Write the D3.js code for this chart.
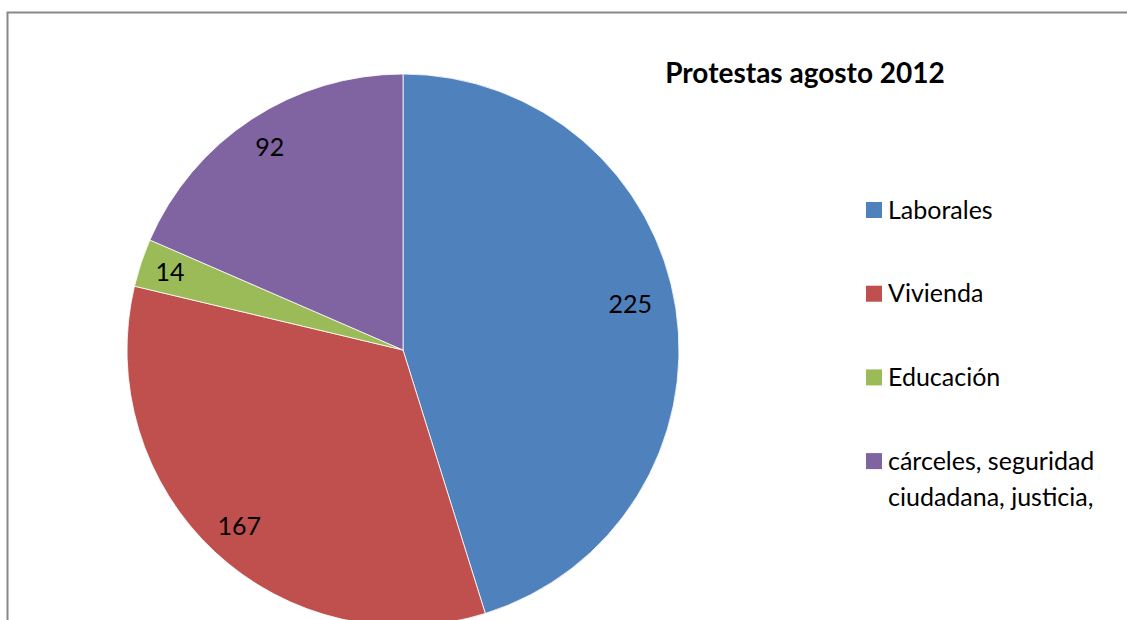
<!DOCTYPE html>
<html>
<head>
<meta charset="utf-8">
<script src="https://cdn.jsdelivr.net/npm/d3@7"></script>
<style>
  body { margin: 0; background: #fff; }
  svg { display: block; font-family: Lato, "Open Sans", sans-serif; }
</style>
</head>
<body>
<svg id="chart" width="1127" height="620"></svg>
<script>
'use strict';

// data
const categories = ['Laborales', 'Vivienda', 'Educación', 'cárceles, seguridad ciudadana, justicia,'];
const values = [225, 167, 14, 92];
const colors = ['#4F81BD', '#C0504D', '#9BBB59', '#8064A2'];
const legendLines = [['Laborales'], ['Vivienda'], ['Educación'], ['cárceles, seguridad', 'ciudadana, justicia,']];
const title = 'Protestas agosto 2012';

const svg = d3.select('#chart');

// chart frame (only top and left visible in crop)
svg.append('path')
  .attr('d', 'M7.5,620 V12.5 H1127')
  .attr('fill', 'none')
  .attr('stroke', '#888')
  .attr('stroke-width', 2);

const cx = 403;
const cy = 350;
const radius = 276;

const pie = d3.pie().sort(null).value(d => d);
const arcs = pie(values);
const arc = d3.arc().innerRadius(0).outerRadius(radius);

const g = svg.append('g').attr('transform', 'translate(' + cx + ',' + cy + ')');

g.selectAll('path.slice')
  .data(arcs)
  .enter()
  .append('path')
  .attr('class', 'slice')
  .attr('d', arc)
  .attr('fill', (d, i) => colors[i])
  .attr('stroke', '#fff')
  .attr('stroke-width', 0.8);

// best-fit label placement: distance as fraction of radius, small angle nudge
const labelFactor = [0.84, 0.87, 0.89, 0.88];
const labelNudge = [-0.049, 0, 0, 0];
g.selectAll('text.label')
  .data(arcs)
  .enter()
  .append('text')
  .attr('class', 'label')
  .attr('transform', function(d, i) {
    const a = (d.startAngle + d.endAngle) / 2 + labelNudge[i];
    const r = radius * labelFactor[i];
    return 'translate(' + r * Math.sin(a) + ',' + -r * Math.cos(a) + ')';
  })
  .attr('text-anchor', 'middle')
  .attr('dy', '0.36em')
  .attr('font-size', 25)
  .attr('fill', '#000')
  .text(d => d.data);

// title
svg.append('text')
  .attr('x', 805)
  .attr('y', 83)
  .attr('text-anchor', 'middle')
  .attr('font-size', 28)
  .attr('font-weight', 'bold')
  .text(title);

// legend
const legend = svg.append('g').attr('transform', 'translate(866,210)');
const item = legend.selectAll('g.item')
  .data(categories)
  .enter()
  .append('g')
  .attr('class', 'item')
  .attr('transform', (d, i) => 'translate(0,' + i * 83.7 + ')');

item.append('rect')
  .attr('x', 0)
  .attr('y', -8)
  .attr('width', 16)
  .attr('height', 16)
  .attr('fill', (d, i) => colors[i]);

item.each(function(d, i) {
  const t = d3.select(this).append('text')
    .attr('x', 22)
    .attr('y', 0)
    .attr('font-size', 25);
  legendLines[i].forEach(function(line, j) {
    t.append('tspan')
      .attr('x', 22)
      .attr('dy', j === 0 ? '0.35em' : '1.45em')
      .text(line);
  });
});
</script>
</body>
</html>
